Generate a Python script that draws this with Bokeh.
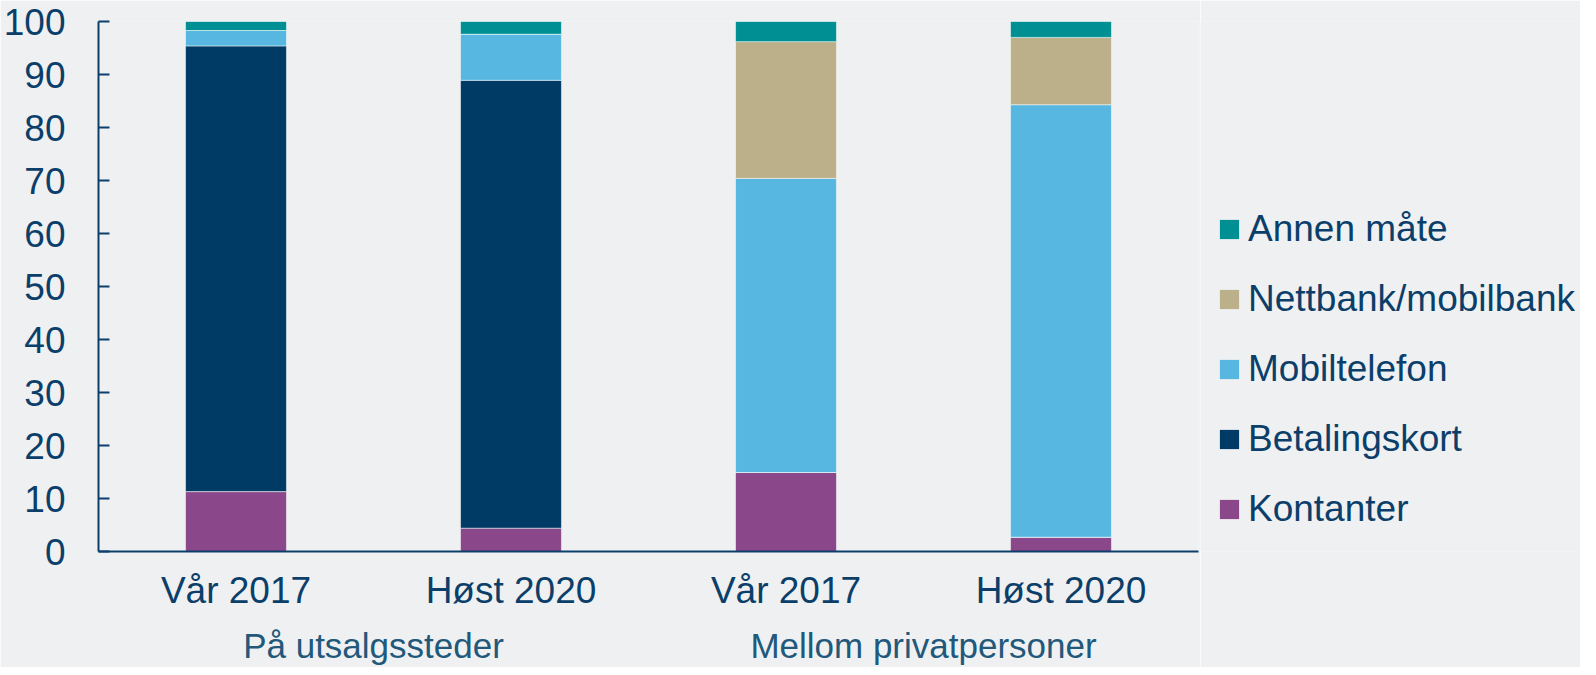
from bokeh.plotting import figure
from bokeh.layouts import row
from bokeh.models import FactorRange, Range1d, Legend, LegendItem, ColumnDataSource, FixedTicker
from bokeh.embed import file_html
from bokeh.resources import INLINE

groups = ["På utsalgssteder", "På utsalgssteder", "Mellom privatpersoner", "Mellom privatpersoner"]
periods = ["Vår 2017", "Høst 2020", "Vår 2017", "Høst 2020"]

kontanter = [11.3, 4.4, 14.9, 2.7]
betalingskort = [84.1, 84.5, 0.0, 0.0]
mobiltelefon = [2.9, 8.7, 55.5, 81.6]
nettbank = [0.0, 0.0, 25.8, 12.7]
annen = [1.7, 2.4, 3.8, 3.0]

series_names = ["Kontanter", "Betalingskort", "Mobiltelefon", "Nettbank/mobilbank", "Annen måte"]
series_keys = ["kontanter", "betalingskort", "mobiltelefon", "nettbank", "annen"]
colors = ["#8a4789", "#003b66", "#57b7e1", "#bbb08a", "#008f93"]
y_ticks = [0, 10, 20, 30, 40, 50, 60, 70, 80, 90, 100]

FONT = "Liberation Sans"
TXT = "#0b3f6a"
BG = "#eff0f2"
H = 667
TOP = 21
BOTTOM = 115

x = list(zip(groups, periods))
source = ColumnDataSource(data=dict(
    x=x, kontanter=kontanter, betalingskort=betalingskort,
    mobiltelefon=mobiltelefon, nettbank=nettbank, annen=annen))

p = figure(
    x_range=FactorRange(*x, group_padding=0, factor_padding=0, range_padding=0),
    y_range=Range1d(0, 100),
    width=1200, height=H,
    output_backend="svg", toolbar_location=None,
    min_border_left=98, min_border_top=TOP, min_border_bottom=BOTTOM, min_border_right=2,
    background_fill_color=BG, border_fill_color=BG, outline_line_color=None,
)

renderers = p.vbar_stack(series_keys, x="x", width=0.367, source=source,
                         color=colors, line_color="white", line_alpha=0.5, line_width=1)

p.xgrid.grid_line_color = None
p.ygrid.grid_line_color = None

# y axis
p.yaxis.ticker = FixedTicker(ticks=y_ticks)
p.yaxis.major_tick_in = 11
p.yaxis.major_tick_out = 0
p.yaxis.minor_tick_line_color = None
p.yaxis.axis_line_color = TXT
p.yaxis.axis_line_width = 2
p.yaxis.major_tick_line_color = TXT
p.yaxis.major_tick_line_width = 2
p.yaxis.major_label_text_font = FONT
p.yaxis.major_label_text_font_size = "37px"
p.yaxis.major_label_text_color = TXT
p.yaxis.major_label_standoff = 33

# x axis
p.xaxis.major_tick_line_color = None
p.xaxis.minor_tick_line_color = None
p.xaxis.axis_line_color = TXT
p.xaxis.axis_line_width = 2
p.xaxis.major_label_text_font = FONT
p.xaxis.major_label_text_font_size = "37px"
p.xaxis.major_label_text_color = TXT
p.xaxis.major_label_standoff = 12
p.xaxis.group_text_font = FONT
p.xaxis.group_text_font_size = "35px"
p.xaxis.group_text_font_style = "normal"
p.xaxis.group_text_color = "#22587a"
p.xaxis.separator_line_color = None

# legend panel (separate figure so that the chart frame keeps its width)
lf = figure(width=380, height=H, output_backend="svg", toolbar_location=None,
            min_border=0, min_border_top=TOP, min_border_bottom=BOTTOM,
            background_fill_color=BG, border_fill_color=BG, outline_line_color=None)
lf.axis.visible = False
lf.grid.grid_line_color = None
# zero-size key swatches, used only to give the legend its colours
key_renderers = [lf.vbar(x=[0], top=[0], width=0, fill_color=c, line_color=None) for c in colors]

items = [LegendItem(label=name, renderers=[r]) for name, r in zip(series_names, key_renderers)][::-1]
legend = Legend(items=items, location=(17, 20), orientation="vertical",
                label_text_font=FONT, label_text_font_size="37px", label_text_color=TXT,
                glyph_width=24, glyph_height=24, label_standoff=7, label_height=45,
                spacing=25, padding=0, margin=0, border_line_color=None,
                background_fill_alpha=0)
lf.add_layout(legend, "center")

layout = row(p, lf, spacing=0)
open("out.html", "w").write(file_html(layout, INLINE))
